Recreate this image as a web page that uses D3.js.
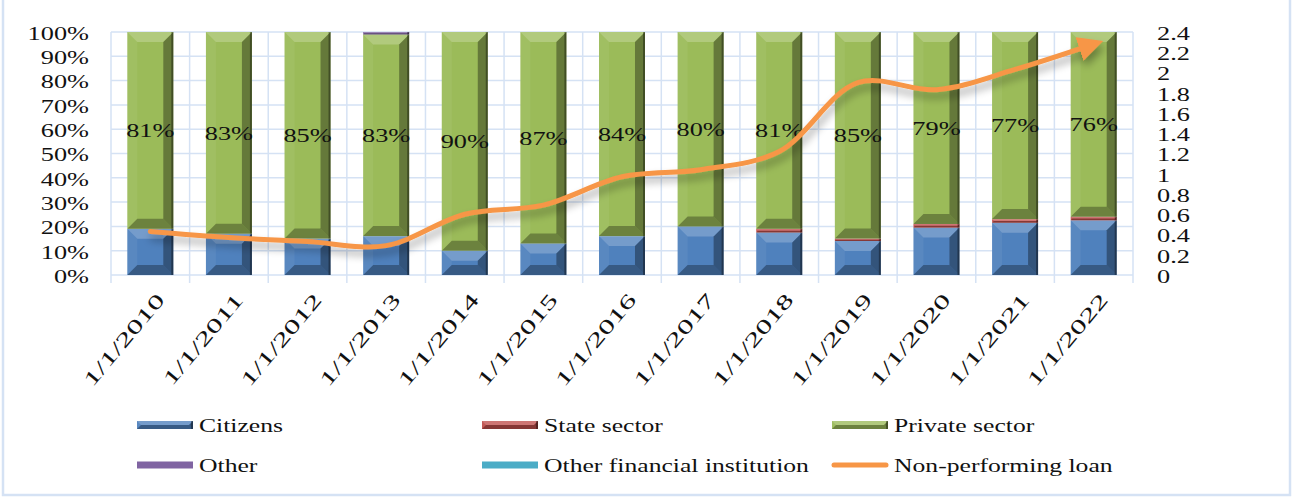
<!DOCTYPE html>
<html>
<head>
<meta charset="utf-8">
<script src="https://cdn.jsdelivr.net/npm/d3@7"></script>
<style>
  body { margin: 0; background: #fff; }
  text { font-family: "Liberation Serif", "Times New Roman", serif; fill: #111; }
</style>
</head>
<body>
<svg id="chart" width="1292" height="497"></svg>
<script>
// data
var dates = ["1/1/2010", "1/1/2011", "1/1/2012", "1/1/2013", "1/1/2014", "1/1/2015", "1/1/2016",
             "1/1/2017", "1/1/2018", "1/1/2019", "1/1/2020", "1/1/2021", "1/1/2022"];
var citizens = [19, 17, 15, 16, 10, 13, 16, 20, 17.5, 14, 19.5, 21.5, 22.5];
var stateSector = [0, 0, 0, 0, 0, 0, 0, 0, 1.5, 1, 1.5, 1.5, 1.5];
var privateSector = [81, 83, 85, 83, 90, 87, 84, 80, 81, 85, 79, 77, 76];
var other = [0, 0, 0, 1, 0, 0, 0, 0, 0, 0, 0, 0, 0];
var otherFin = [0, 0, 0, 0, 0, 0, 0, 0, 0, 0, 0, 0, 0];
var npl = [0.43, 0.37, 0.33, 0.29, 0.6, 0.69, 0.97, 1.04, 1.22, 1.9, 1.83, 2.03, 2.28];

var leftTicks = [0, 10, 20, 30, 40, 50, 60, 70, 80, 90, 100];
var rightTicks = [0, 0.2, 0.4, 0.6, 0.8, 1, 1.2, 1.4, 1.6, 1.8, 2, 2.2, 2.4];

var series = [
    {name: "Citizens", values: citizens, color: "#4F81BD"},
    {name: "State sector", values: stateSector, color: "#C0504D"},
    {name: "Private sector", values: privateSector, color: "#9BBB59"},
    {name: "Other", values: other, color: "#8064A2"},
    {name: "Other financial institution", values: otherFin, color: "#4BACC6"}
];

var svg = d3.select("#chart");
var SX = 1.35; // the text in the picture is drawn wide
var gridColor = "#D5E2F4";

var x = d3.scaleBand().domain(dates).range([111, 1133]).paddingInner(0.415).paddingOuter(0.2075);
var y = d3.scaleLinear().domain([0, 100]).range([275, 32]);
var y2 = d3.scaleLinear().domain([0, 2.4]).range([275, 32]);

// outer frame
svg.append("rect").attr("x", 3).attr("y", -2).attr("width", 1287).attr("height", 497)
    .attr("fill", "none").attr("stroke", gridColor).attr("stroke-width", 2.5);

var defs = svg.append("defs");
var f = defs.append("filter").attr("id", "shadow").attr("x", "-10%").attr("y", "-30%").attr("width", "120%").attr("height", "180%");
f.append("feGaussianBlur").attr("in", "SourceAlpha").attr("stdDeviation", 4);
f.append("feOffset").attr("dx", 2).attr("dy", 6).attr("result", "b");
f.append("feComponentTransfer").append("feFuncA").attr("type", "linear").attr("slope", 0.35);
var fm = f.append("feMerge");
fm.append("feMergeNode");
fm.append("feMergeNode").attr("in", "SourceGraphic");

// grid
var grid = svg.append("g");
grid.selectAll("line.h").data(leftTicks).join("line")
    .attr("x1", 111).attr("x2", 1133)
    .attr("y1", d => y(d)).attr("y2", d => y(d))
    .attr("stroke", gridColor).attr("stroke-width", 1.5);
grid.selectAll("line.v").data(d3.range(dates.length + 1)).join("line")
    .attr("x1", i => 111 + i * x.step()).attr("x2", i => 111 + i * x.step())
    .attr("y1", y(100)).attr("y2", y(0) + 8)
    .attr("stroke", gridColor).attr("stroke-width", 1.5);

function wideText(g, tx, ty, str, anchor, size) {
    return g.append("text")
        .attr("transform", "translate(" + tx + "," + ty + ") scale(" + SX + ",1)")
        .attr("text-anchor", anchor)
        .attr("dy", "0.35em")
        .style("font-size", size + "px")
        .text(str);
}

// bevelled block, like the 3D bars of the original
function bevel(g, x0, y0, w, h, color, maxB) {
    if (h <= 0) return;
    let b = Math.min(maxB, h / 2, w / 2);
    g.append("rect").attr("x", x0).attr("y", y0).attr("width", w).attr("height", h).attr("fill", color);
    let pts = (a) => a.map(p => p.join(",")).join(" ");
    g.append("polygon").attr("points", pts([[x0, y0], [x0 + w, y0], [x0 + w - b, y0 + b], [x0 + b, y0 + b]]))
        .attr("fill", "#fff").attr("opacity", 0.22);
    g.append("polygon").attr("points", pts([[x0, y0], [x0 + b, y0 + b], [x0 + b, y0 + h - b], [x0, y0 + h]]))
        .attr("fill", "#fff").attr("opacity", 0.06);
    g.append("polygon").attr("points", pts([[x0 + w, y0], [x0 + w, y0 + h], [x0 + w - b, y0 + h - b], [x0 + w - b, y0 + b]]))
        .attr("fill", "#000").attr("opacity", 0.35);
    g.append("polygon").attr("points", pts([[x0, y0 + h], [x0 + w, y0 + h], [x0 + w - b, y0 + h - b], [x0 + b, y0 + h - b]]))
        .attr("fill", "#000").attr("opacity", 0.3);
    g.append("rect").attr("x", x0 + w - 2).attr("y", y0).attr("width", 2).attr("height", h)
        .attr("fill", "#000").attr("opacity", 0.35);
}

// stacked bars
var bars = svg.append("g");
dates.forEach(function(d, i) {
    let acc = 0;
    series.forEach(function(s) {
        let v = s.values[i];
        bevel(bars, x(d), y(acc + v), x.bandwidth(), y(acc) - y(acc + v), s.color, 10);
        acc += v;
    });
});

// private sector labels
var labels = svg.append("g");
dates.forEach(function(d, i) {
    let base = citizens[i] + stateSector[i];
    wideText(labels, x(d) + x.bandwidth() / 2, y(base + privateSector[i] / 2), privateSector[i] + "%", "middle", 19.5);
});

// axes labels
var axL = svg.append("g");
leftTicks.forEach(t => wideText(axL, 89, y(t) + 1, t + "%", "end", 19.5));
var axR = svg.append("g");
rightTicks.forEach(t => wideText(axR, 1157, y2(t) + 1, d3.format("~g")(t), "start", 19.5));

var axX = svg.append("g");
dates.forEach(function(d) {
    axX.append("text")
        .attr("transform", "translate(" + (x(d) + x.bandwidth() / 2 + 10) + ",296) rotate(-50) scale(1.6,1)")
        .attr("text-anchor", "end")
        .attr("dy", "0.35em")
        .style("font-size", "20px")
        .text(d);
});

// non-performing loan line
var line = d3.line()
    .x((v, i) => x(dates[i]) + x.bandwidth() / 2)
    .y(v => y2(v))
    .curve(d3.curveCatmullRom.alpha(0.5));

defs.append("marker").attr("id", "arrow").attr("viewBox", "0 0 10 10")
    .attr("refX", 6).attr("refY", 5).attr("markerWidth", 5).attr("markerHeight", 5)
    .attr("orient", "auto")
    .append("path").attr("d", "M0,0 L10,5 L0,10 Z").attr("fill", "#F79646");

svg.append("path").datum(npl)
    .attr("d", line)
    .attr("fill", "none")
    .attr("stroke", "#F79646")
    .attr("stroke-width", 5)
    .attr("stroke-linecap", "round")
    .attr("marker-end", "url(#arrow)")
    .attr("filter", "url(#shadow)");

// legend
var legendItems = [
    {name: "Citizens", color: "#4F81BD", col: 0, row: 0, bev: true},
    {name: "State sector", color: "#C0504D", col: 1, row: 0, bev: true},
    {name: "Private sector", color: "#9BBB59", col: 2, row: 0, bev: true},
    {name: "Other", color: "#8064A2", col: 0, row: 1, bev: false},
    {name: "Other financial institution", color: "#4BACC6", col: 1, row: 1, bev: false},
    {name: "Non-performing loan", color: "#F79646", col: 2, row: 1, line: true}
];
var legendCols = [137, 482, 832];
var legendRows = [425, 465];
var legend = svg.append("g");
legendItems.forEach(function(it) {
    let lx = legendCols[it.col], ly = legendRows[it.row];
    if (it.line) {
        legend.append("line").attr("x1", lx + 2).attr("x2", lx + 54).attr("y1", ly).attr("y2", ly)
            .attr("stroke", it.color).attr("stroke-width", 5).attr("stroke-linecap", "round");
    } else if (it.bev) {
        bevel(legend, lx, ly - 4, 56, 8, it.color, 4);
    } else {
        legend.append("rect").attr("x", lx).attr("y", ly - 3.5).attr("width", 56).attr("height", 7).attr("fill", it.color);
    }
    wideText(legend, lx + 62, ly, it.name, "start", 19);
});
</script>
</body>
</html>
